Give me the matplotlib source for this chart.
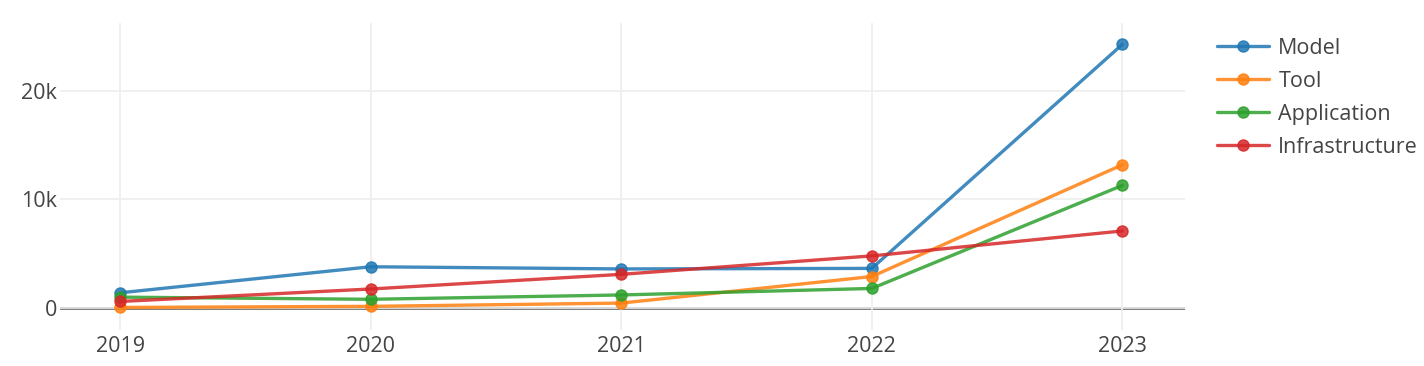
import matplotlib.pyplot as plt
from matplotlib.ticker import FuncFormatter

plt.rcParams['font.family'] = ['Open Sans', 'DejaVu Sans']

years = [2019, 2020, 2021, 2022, 2023]
categories = ['Model', 'Tool', 'Application', 'Infrastructure']
model = [1400, 3800, 3600, 3650, 24300]
tool = [50, 150, 450, 2900, 13200]
application = [1000, 800, 1200, 1800, 11300]
infrastructure = [600, 1750, 3100, 4800, 7100]
colors = ['#1f77b4', '#ff7f0e', '#2ca02c', '#d62728']


def fmt_k(v, pos):
    if v == 0:
        return '0'
    return '%dk' % (v / 1000)


fig = plt.figure(figsize=(14.24, 3.66), dpi=100)
ax = fig.add_axes([60 / 1424, 36 / 366, 1125 / 1424, 307 / 366])

series = [model, tool, application, infrastructure]
for name, vals, c in zip(categories, series, colors):
    ax.plot(years, vals, color=c, alpha=0.85, lw=2.4, marker='o', ms=8,
            label=name, zorder=3, solid_capstyle='round')

ax.set_xlim(2018.76, 2023.25)
ax.set_ylim(-2030, 26270)
ax.set_xticks(years)
ax.set_yticks([0, 10000, 20000])
ax.yaxis.set_major_formatter(FuncFormatter(fmt_k))
ax.grid(True, color='#eeeeee', lw=1.2, zorder=0)
ax.axhline(0, color='#444444', lw=1.8, alpha=0.9, zorder=1)
for s in ax.spines.values():
    s.set_visible(False)
ax.tick_params(length=0, labelsize=15.5, labelcolor='#444444')
ax.tick_params(axis='x', pad=4)
ax.tick_params(axis='y', pad=2)

fig.legend(loc='upper left', bbox_to_anchor=(1217 / 1424, 1 - 38 / 366),
           frameon=False, fontsize=15.5, handlelength=2.4, handletextpad=0.45,
           labelspacing=0.55, labelcolor='#444444', borderaxespad=0, borderpad=0)

fig.savefig('out.png', dpi=100)
